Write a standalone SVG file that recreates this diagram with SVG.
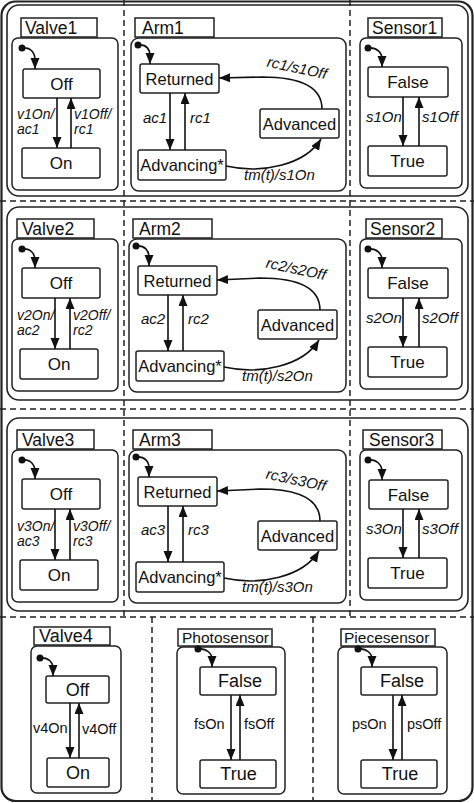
<svg xmlns="http://www.w3.org/2000/svg" width="474" height="803" viewBox="0 0 474 803">
<style>
.frame{fill:none;stroke:#222;stroke-width:1.6}
.outer{fill:none;stroke:#222;stroke-width:2.2}
.box{fill:#fff;stroke:#222;stroke-width:1.5}
.dash{fill:none;stroke:#222;stroke-width:1.5;stroke-dasharray:6 4}
text{font-family:"Liberation Sans",Arial,sans-serif;fill:#111}
.st{font-size:17px;text-anchor:middle}
.sta{font-size:16.5px;text-anchor:middle}
.st4{font-size:18px;text-anchor:middle}
.ttl{font-size:17.5px}
.ttl4{font-size:15.5px}
.lbl{font-size:15px;font-style:italic}
.lbv{font-size:14px;font-style:italic}
.lbl4{font-size:14.5px}
.conn path{fill:none;stroke:#111;stroke-width:1.6;marker-end:url(#ah)}
.dot{fill:#111}
</style>
<defs>
<marker id="ah" markerUnits="userSpaceOnUse" markerWidth="12" markerHeight="10" refX="11" refY="4.5" orient="auto"><path d="M0,0 L11,4.5 L0,9 z" fill="#111"/></marker>
</defs>
<rect width="474" height="803" fill="#fff"/>
<g id="frames">
<rect class="outer" x="1.5" y="1.5" width="471" height="799.5" rx="14"/>
<rect class="frame" x="7" y="5" width="461" height="191" rx="12"/>
<rect class="frame" x="7" y="207" width="461" height="193" rx="12"/>
<rect class="frame" x="7" y="418" width="461" height="193" rx="12"/>
<path class="dash" d="M0,201 H474 M0,409 H474 M0,617 H474 M124,0 V617 M350,0 V617 M152,617 V801 M313,617 V801"/>
</g>
<!-- Row 1 -->
<g id="row1">
<g id="valve1"><rect class="box" x="21" y="18" width="76" height="19"/><text class="ttl" x="25" y="34">Valve1</text><rect class="box" x="12" y="38" width="106" height="152" rx="6"/><circle class="dot" cx="22" cy="48" r="3.5"/></g>
<g id="valve1-off"><rect class="box" x="23" y="69" width="77" height="29" rx="2"/><text class="st" x="61.5" y="90">Off</text></g>
<g id="valve1-on"><rect class="box" x="22" y="148" width="78" height="30" rx="2"/><text class="st" x="61" y="169">On</text></g>
<g id="arm1"><rect class="box" x="135" y="18" width="79" height="19"/><text class="ttl" x="142" y="34">Arm1</text><rect class="box" x="131" y="38" width="215" height="153" rx="8"/><circle class="dot" cx="138" cy="45" r="3.5"/></g>
<g id="arm1-returned"><rect class="box" x="140" y="64" width="79" height="29" rx="2"/><text class="sta" x="179.5" y="85">Returned</text></g>
<g id="arm1-advancing"><rect class="box" x="138" y="150" width="88" height="30" rx="2"/><text class="sta" x="182" y="171">Advancing*</text></g>
<g id="arm1-advanced"><rect class="box" x="260" y="109" width="79" height="29" rx="2"/><text class="sta" x="299.5" y="130">Advanced</text></g>
<g id="sensor1"><rect class="box" x="368" y="18" width="74" height="19"/><text class="ttl" x="372" y="34">Sensor1</text><rect class="box" x="360" y="38" width="102" height="150" rx="6"/><circle class="dot" cx="368" cy="48" r="3.5"/></g>
<g id="sensor1-false"><rect class="box" x="368" y="67" width="80" height="30" rx="2"/><text class="st" x="408" y="88">False</text></g>
<g id="sensor1-true"><rect class="box" x="368" y="146" width="79" height="30" rx="2"/><text class="st" x="407.5" y="167">True</text></g>
</g>
<!-- Row 2 -->
<g id="row2" transform="translate(0,201)">
<g id="valve2"><rect class="box" x="17" y="18" width="77" height="19"/><text class="ttl" x="22" y="34">Valve2</text><rect class="box" x="12" y="38" width="106" height="152" rx="6"/><circle class="dot" cx="22" cy="48" r="3.5"/></g>
<g id="valve2-off"><rect class="box" x="22" y="67" width="78" height="30" rx="2"/><text class="st" x="61" y="88">Off</text></g>
<g id="valve2-on"><rect class="box" x="20" y="148" width="78" height="30" rx="2"/><text class="st" x="59" y="169">On</text></g>
<g id="arm2"><rect class="box" x="133" y="18" width="79" height="19"/><text class="ttl" x="139" y="34">Arm2</text><rect class="box" x="129" y="38" width="217" height="153" rx="8"/><circle class="dot" cx="136" cy="45" r="3.5"/></g>
<g id="arm2-returned"><rect class="box" x="138" y="65" width="79" height="29" rx="2"/><text class="sta" x="177.5" y="86">Returned</text></g>
<g id="arm2-advancing"><rect class="box" x="136" y="150" width="88" height="30" rx="2"/><text class="sta" x="180" y="171">Advancing*</text></g>
<g id="arm2-advanced"><rect class="box" x="258" y="109" width="79" height="29" rx="2"/><text class="sta" x="297.5" y="130">Advanced</text></g>
<g id="sensor2"><rect class="box" x="366" y="18" width="76" height="19"/><text class="ttl" x="370" y="34">Sensor2</text><rect class="box" x="360" y="38" width="102" height="150" rx="6"/><circle class="dot" cx="368" cy="48" r="3.5"/></g>
<g id="sensor2-false"><rect class="box" x="368" y="67" width="80" height="30" rx="2"/><text class="st" x="408" y="88">False</text></g>
<g id="sensor2-true"><rect class="box" x="368" y="146" width="79" height="30" rx="2"/><text class="st" x="407.5" y="167">True</text></g>
</g>
<!-- Row 3 -->
<g id="row3" transform="translate(0,412)">
<g id="valve3"><rect class="box" x="17" y="18" width="77" height="19"/><text class="ttl" x="22" y="34">Valve3</text><rect class="box" x="12" y="38" width="106" height="152" rx="6"/><circle class="dot" cx="22" cy="48" r="3.5"/></g>
<g id="valve3-off"><rect class="box" x="22" y="67" width="78" height="30" rx="2"/><text class="st" x="61" y="88">Off</text></g>
<g id="valve3-on"><rect class="box" x="20" y="148" width="78" height="30" rx="2"/><text class="st" x="59" y="169">On</text></g>
<g id="arm3"><rect class="box" x="133" y="18" width="79" height="19"/><text class="ttl" x="139" y="34">Arm3</text><rect class="box" x="129" y="38" width="217" height="153" rx="8"/><circle class="dot" cx="136" cy="45" r="3.5"/></g>
<g id="arm3-returned"><rect class="box" x="138" y="65" width="79" height="29" rx="2"/><text class="sta" x="177.5" y="86">Returned</text></g>
<g id="arm3-advancing"><rect class="box" x="136" y="150" width="88" height="30" rx="2"/><text class="sta" x="180" y="171">Advancing*</text></g>
<g id="arm3-advanced"><rect class="box" x="258" y="109" width="79" height="29" rx="2"/><text class="sta" x="297.5" y="130">Advanced</text></g>
<g id="sensor3"><rect class="box" x="363" y="18" width="79" height="19"/><text class="ttl" x="369" y="34">Sensor3</text><rect class="box" x="360" y="38" width="102" height="150" rx="6"/><circle class="dot" cx="368" cy="48" r="3.5"/></g>
<g id="sensor3-false"><rect class="box" x="369" y="68" width="79" height="29" rx="2"/><text class="st" x="408.5" y="89">False</text></g>
<g id="sensor3-true"><rect class="box" x="368" y="146" width="79" height="30" rx="2"/><text class="st" x="407.5" y="167">True</text></g>
</g>
<!-- Row 4 -->
<g id="valve4"><rect class="box" x="34" y="627" width="76" height="18"/><text class="ttl" x="39" y="642" style="font-size:18px">Valve4</text><rect class="box" x="31" y="646" width="90" height="147" rx="6"/><circle class="dot" cx="40" cy="658" r="3.5"/></g>
<g id="valve4-off"><rect class="box" x="46" y="676" width="63" height="27" rx="2"/><text class="st4" x="77.5" y="696">Off</text></g>
<g id="valve4-on"><rect class="box" x="47" y="758" width="62" height="29" rx="2"/><text class="st4" x="78" y="779">On</text></g>
<g id="photosensor"><rect class="box" x="178" y="629" width="94" height="17"/><text class="ttl4" x="182" y="643">Photosensor</text><rect class="box" x="177" y="647" width="108" height="147" rx="6"/><circle class="dot" cx="198" cy="649" r="3.5"/></g>
<g id="photosensor-false"><rect class="box" x="200" y="667" width="76" height="28" rx="2"/><text class="st4" x="240" y="687">False</text></g>
<g id="photosensor-true"><rect class="box" x="200" y="760" width="76" height="28" rx="2"/><text class="st4" x="238.5" y="780">True</text></g>
<g id="piecesensor"><rect class="box" x="341" y="629" width="94" height="17"/><text class="ttl4" x="344" y="643">Piecesensor</text><rect class="box" x="338" y="647" width="109" height="147" rx="6"/><circle class="dot" cx="358" cy="649" r="3.5"/></g>
<g id="piecesensor-false"><rect class="box" x="361" y="667" width="76" height="28" rx="2"/><text class="st4" x="402" y="687">False</text></g>
<g id="piecesensor-true"><rect class="box" x="361" y="760" width="76" height="28" rx="2"/><text class="st4" x="400" y="780">True</text></g>
<!-- Connectors -->
<g id="connectors" class="conn">
<g id="conn-row1">
<path d="M22,48 C31,47 35,53 35,60 L35,69"/>
<path d="M57,98 L57,148"/><path d="M71,148 L71,98"/>
<path d="M138,45 C147,44 150,50 150,56 L150,64"/>
<path d="M170,93 L170,150"/><path d="M185,150 L185,93"/>
<path d="M322,109 C322,86 300,77 262,77 L219,78"/>
<path d="M226,166 C262,174 305,165 321,139"/>
<path d="M368,48 C377,47 382,53 382,59 L382,67"/>
<path d="M403,97 L403,146"/><path d="M419,146 L419,97"/>
<text class="lbv"><tspan x="17" y="118.5">v1On/</tspan><tspan x="17" dy="15.5">ac1</tspan></text>
<text class="lbv"><tspan x="74" y="118.5">v1Off/</tspan><tspan x="74" dy="15.5">rc1</tspan></text>
<text class="lbl" x="143" y="123">ac1</text><text class="lbl" x="190" y="123">rc1</text>
<text class="lbl" x="297" y="73" text-anchor="middle" transform="rotate(12 297 68)">rc1/s1Off</text>
<text class="lbl" x="244" y="180">tm(t)/s1On</text>
<text class="lbl" x="366" y="122">s1On</text><text class="lbl" x="422" y="122">s1Off</text>
</g>
<g id="conn-row2" transform="translate(0,201)">
<path d="M22,48 C31,47 35,53 35,60 L35,67"/>
<path d="M55,97 L55,148"/><path d="M70,148 L70,97"/>
<path d="M136,45 C145,44 149,50 149,56 L149,65"/>
<path d="M168,94 L168,150"/><path d="M183,150 L183,94"/>
<path d="M320,109 C320,86 298,77 260,77 L217,79"/>
<path d="M224,166 C260,174 303,165 319,139"/>
<path d="M368,48 C377,47 382,53 382,59 L382,67"/>
<path d="M403,97 L403,146"/><path d="M419,146 L419,97"/>
<text class="lbv"><tspan x="17" y="118.5">v2On/</tspan><tspan x="17" dy="15.5">ac2</tspan></text>
<text class="lbv"><tspan x="73" y="118.5">v2Off/</tspan><tspan x="73" dy="15.5">rc2</tspan></text>
<text class="lbl" x="141" y="123">ac2</text><text class="lbl" x="188" y="123">rc2</text>
<text class="lbl" x="296" y="73" text-anchor="middle" transform="rotate(12 296 68)">rc2/s2Off</text>
<text class="lbl" x="242" y="180">tm(t)/s2On</text>
<text class="lbl" x="366" y="122">s2On</text><text class="lbl" x="422" y="122">s2Off</text>
</g>
<g id="conn-row3" transform="translate(0,412)">
<path d="M22,48 C31,47 35,53 35,60 L35,67"/>
<path d="M55,97 L55,148"/><path d="M70,148 L70,97"/>
<path d="M136,45 C145,44 149,50 149,56 L149,65"/>
<path d="M168,94 L168,150"/><path d="M183,150 L183,94"/>
<path d="M320,109 C320,86 298,77 260,77 L217,79"/>
<path d="M224,166 C260,174 303,165 319,139"/>
<path d="M368,48 C377,47 382,53 382,60 L382,68"/>
<path d="M403,97 L403,146"/><path d="M419,146 L419,97"/>
<text class="lbv"><tspan x="17" y="118.5">v3On/</tspan><tspan x="17" dy="15.5">ac3</tspan></text>
<text class="lbv"><tspan x="73" y="118.5">v3Off/</tspan><tspan x="73" dy="15.5">rc3</tspan></text>
<text class="lbl" x="141" y="123">ac3</text><text class="lbl" x="188" y="123">rc3</text>
<text class="lbl" x="296" y="73" text-anchor="middle" transform="rotate(12 296 68)">rc3/s3Off</text>
<text class="lbl" x="242" y="180">tm(t)/s3On</text>
<text class="lbl" x="366" y="122">s3On</text><text class="lbl" x="422" y="122">s3Off</text>
</g>
<g id="conn-row4">
<path d="M40,658 C49,657 53,663 53,668 L53,676"/>
<path d="M70,703 L70,758"/><path d="M79,758 L79,703"/>
<path d="M198,649 C207,648 212,654 212,659 L212,667"/>
<path d="M231,695 L231,760"/><path d="M240,760 L240,695"/>
<path d="M358,649 C367,648 372,654 372,659 L372,667"/>
<path d="M393,695 L393,760"/><path d="M402,760 L402,695"/>
<text class="lbl4" x="33" y="733">v4On</text><text class="lbl4" x="82" y="734">v4Off</text>
<text class="lbl4" x="194" y="729">fsOn</text><text class="lbl4" x="244" y="729">fsOff</text>
<text class="lbl4" x="352" y="729">psOn</text><text class="lbl4" x="407" y="729">psOff</text>
</g>
</g>
</svg>
